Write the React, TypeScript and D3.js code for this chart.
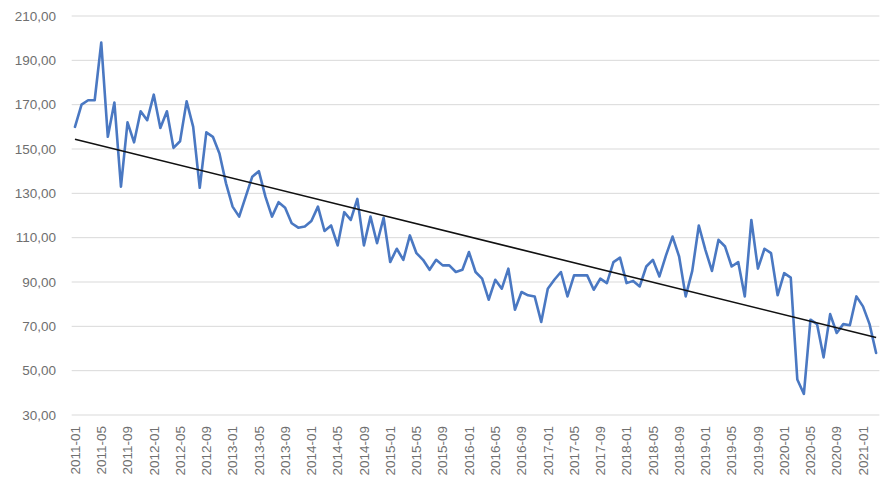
import React, { useEffect } from "react";
import * as d3 from "d3";

// Monthly series, 2011-01 .. 2021-03
const startYear = 2011;
const monthCount = 123;
const values: number[] = [
  160, 170, 172, 172, 198, 155.5, 171, 133, 162, 153, 167, 163,
  174.5, 159.5, 167, 150.5, 153.5, 171.5, 160, 132.5, 157.5, 155.5, 148, 134.5,
  124, 119.5, 128.5, 137.5, 140, 128.5, 119.5, 126, 123.5, 116.5, 114.5, 115,
  117.5, 124, 113, 115.5, 106.5, 121.5, 118, 127.5, 106.5, 119.5, 107.5, 119,
  99, 105, 100, 111, 103, 100, 95.5, 100, 97.5, 97.5, 94.5, 95.5,
  103.5, 94.5, 91.5, 82, 91, 87, 96, 77.5, 85.5, 84, 83.5, 72,
  87, 91, 94.5, 83.5, 93, 93, 93, 86.5, 91.5, 89.5, 99, 101,
  89.5, 90.5, 88, 97, 100, 92.5, 102, 110.5, 101.5, 83.5, 95, 115.5,
  104.5, 95, 109, 106, 97, 99, 83.5, 118, 96, 105, 103, 84,
  94, 92, 46, 39.5, 73, 71, 56, 75.5, 67, 71, 70.5, 83.5,
  79, 71, 58,
];

const yTicks: number[] = [30, 50, 70, 90, 110, 130, 150, 170, 190, 210];

const xTickLabels: string[] = [
  "2011-01", "2011-05", "2011-09", "2012-01", "2012-05", "2012-09",
  "2013-01", "2013-05", "2013-09", "2014-01", "2014-05", "2014-09",
  "2015-01", "2015-05", "2015-09", "2016-01", "2016-05", "2016-09",
  "2017-01", "2017-05", "2017-09", "2018-01", "2018-05", "2018-09",
  "2019-01", "2019-05", "2019-09", "2020-01", "2020-05", "2020-09",
  "2021-01",
];

const categories: string[] = Array.from({ length: monthCount }, (_, i) => {
  const y = startYear + Math.floor(i / 12);
  const m = (i % 12) + 1;
  return `${y}-${m < 10 ? "0" + m : m}`;
});

const W = 890;
const H = 484;
const left = 71.7;
const right = 879.4;
const top = 16;
const bottom = 415;

export default function App() {
  useEffect(() => {
    document.body.style.margin = "0";
  }, []);

  const x = d3.scaleBand<string>().domain(categories).range([left, right]).padding(0);
  const cx = (c: string) => (x(c) as number) + x.bandwidth() / 2;
  const y = d3.scaleLinear().domain([30, 210]).range([bottom, top]);

  const data = values.map((v, i) => ({ c: categories[i], i, v }));
  const line = d3
    .line<{ c: string; i: number; v: number }>()
    .x((d) => cx(d.c))
    .y((d) => y(d.v));

  // least squares trend
  const n = values.length;
  const mx = d3.mean(data, (d) => d.i) as number;
  const my = d3.mean(values) as number;
  let sxy = 0;
  let sxx = 0;
  data.forEach((d) => {
    sxy += (d.i - mx) * (d.v - my);
    sxx += (d.i - mx) * (d.i - mx);
  });
  const slope = sxy / sxx;
  const icpt = my - slope * mx;
  const trend = [
    { c: categories[0], i: 0, v: icpt },
    { c: categories[n - 1], i: n - 1, v: icpt + slope * (n - 1) },
  ];

  const fmt = (d: number) => d.toFixed(2).replace(".", ",");
  const font = "'Liberation Sans', Arial, sans-serif";

  return (
    <svg
      width={W}
      height={H}
      style={{ position: "absolute", left: 0, top: 0, background: "#fff" }}
    >
      <rect x={0} y={0} width={W} height={H} fill="#fff" />
      {yTicks.map((t) => (
        <g key={t}>
          <line
            x1={left}
            x2={right}
            y1={y(t)}
            y2={y(t)}
            stroke="#d9d9d9"
            strokeWidth={1}
          />
          <text
            x={56}
            y={y(t)}
            dy="0.35em"
            textAnchor="end"
            fontFamily={font}
            fontSize={13.5}
            fill="#6f6f6f"
          >
            {fmt(t)}
          </text>
        </g>
      ))}
      {xTickLabels.map((lab) => (
        <text
          key={lab}
          transform={`translate(${cx(lab)},${bottom + 11}) rotate(-90)`}
          dy="0.35em"
          textAnchor="end"
          fontFamily={font}
          fontSize={13.5}
          fill="#6f6f6f"
        >
          {lab}
        </text>
      ))}
      <path
        d={line(data) as string}
        fill="none"
        stroke="#4a78c2"
        strokeWidth={2.6}
        strokeLinejoin="round"
        strokeLinecap="round"
      />
      <path
        d={line(trend) as string}
        fill="none"
        stroke="#111"
        strokeWidth={1.6}
      />
    </svg>
  );
}
